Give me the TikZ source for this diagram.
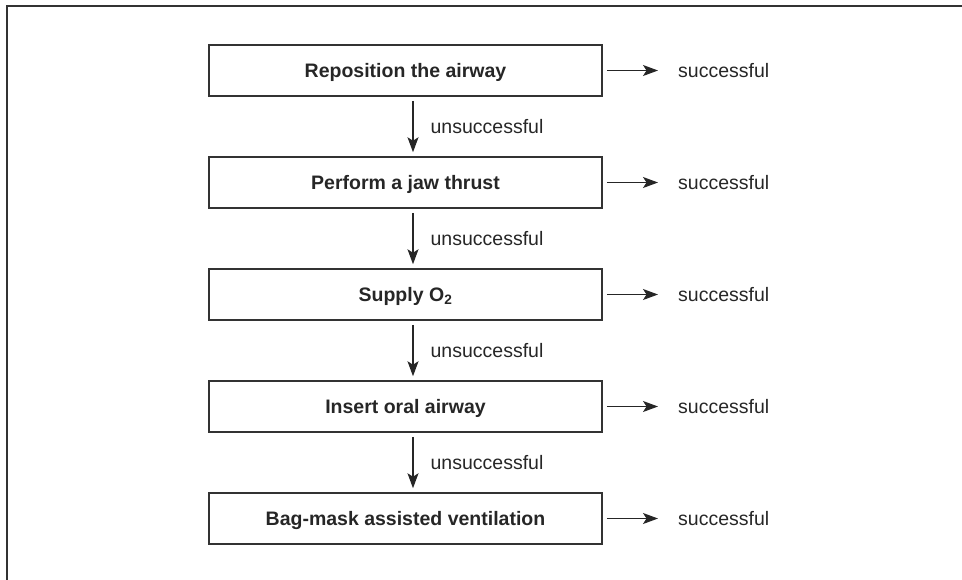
\documentclass[tikz,border=0pt]{standalone}
\usepackage{fontspec}
\setmainfont{Liberation Sans}
\usetikzlibrary{arrows.meta}
\definecolor{ink}{HTML}{262626}
\definecolor{frame}{HTML}{333333}
\begin{document}
\begin{tikzpicture}[x=1pt,y=-1pt,
  stepbox/.style={draw=frame,line width=1.5pt,minimum width=393pt,minimum height=51pt,inner sep=0pt,
    text height=14pt,text depth=0pt,
    font=\fontsize{19.5}{23}\selectfont\bfseries,text=ink},
  outcome/.style={anchor=west,inner sep=0pt,font=\fontsize{19.5}{23}\selectfont,text=ink},
  conn/.style={draw=ink,line width=1.3pt,-{Stealth[length=15pt,width=11pt,inset=3.5pt]}},
  lbl/.style={anchor=west,inner sep=0pt,font=\fontsize{19.5}{23}\selectfont,text=ink}
]
\useasboundingbox (0,0) rectangle (962,579);
\draw[frame,line width=1.3pt] (7,585) -- (7,6) -- (970,6);

\node[stepbox] (b1) at (405.5,70.5) {Reposition the airway};
\node[stepbox] (b2) at (405.5,182.5) {Perform a jaw thrust};
\node[stepbox] (b3) at (405.5,294.5) {Supply O\textsubscript{2}};
\node[stepbox] (b4) at (405.5,406.5) {Insert oral airway};
\node[stepbox] (b5) at (405.5,518.5) {Bag-mask assisted ventilation};

\foreach \i/\y in {1/70.5,2/182.5,3/294.5,4/406.5,5/518.5}{
  \node[outcome] (s\i) at (678,\y) {successful};
  \draw[conn] ([xshift=4pt]b\i.east) -- ([xshift=-20pt]s\i.west);
}

\foreach \i/\j in {1/2,2/3,3/4,4/5}{
  \draw[conn] ([xshift=7.5pt,yshift=-4pt]b\i.south) -- node[lbl,xshift=17pt]{unsuccessful} ([xshift=7.5pt,yshift=4pt]b\j.north);
}
\end{tikzpicture}
\end{document}
